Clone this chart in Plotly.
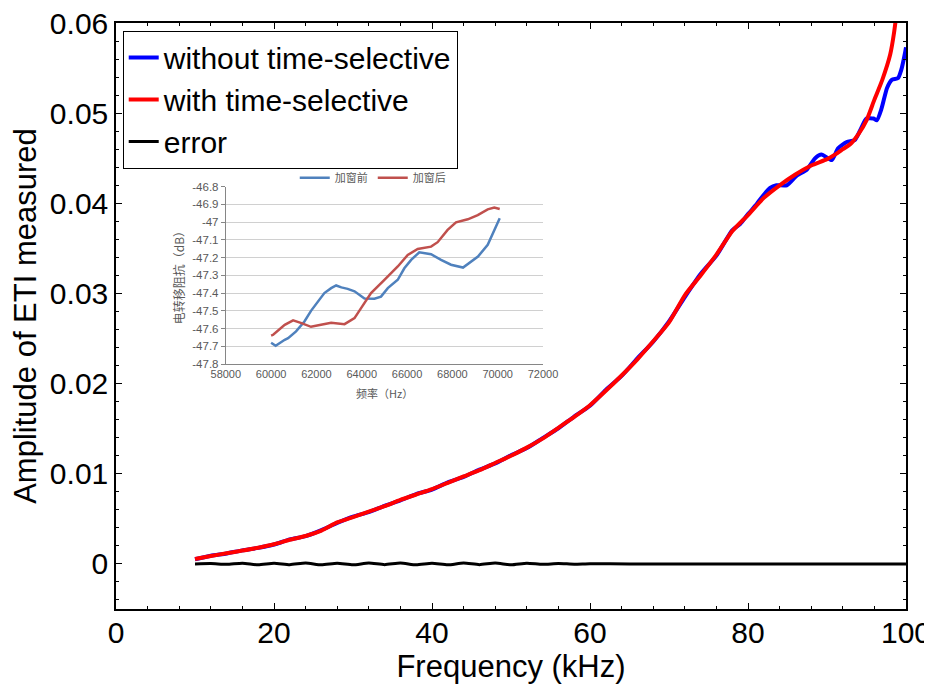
import plotly.graph_objects as go

# ---------------- main chart data (kHz, amplitude) ----------------
freq_without = [10, 12, 14, 16, 18, 20, 22, 24, 26, 28, 30, 32, 34, 36, 38, 40, 42, 44, 46, 48,
                50, 52, 54, 56, 58, 60, 62, 64, 66, 68, 70, 72, 74, 76, 78, 79, 80, 81, 81.5,
                82.8, 83.6, 84.9, 86.2, 87.4, 88.5, 89.3, 90.6, 91.4, 92.5, 93.5, 94.2, 95.0,
                95.9, 96.3, 96.9, 97.6, 98.2, 99.0, 99.4, 99.9, 100]
amp_without = [0.00052, 0.00090, 0.00116, 0.00150, 0.00178, 0.00215, 0.00272, 0.00308, 0.00375,
               0.00455, 0.00525, 0.00575, 0.00645, 0.00705, 0.00775, 0.00825, 0.00905, 0.00965,
               0.01045, 0.01115, 0.01205, 0.01285, 0.01395, 0.01505, 0.01635, 0.01755, 0.01930,
               0.02085, 0.02280, 0.02465, 0.02690, 0.02960, 0.03215, 0.03420, 0.03700, 0.03770,
               0.03880, 0.03980, 0.04040, 0.04170, 0.04200, 0.04200, 0.04310, 0.04370, 0.04500,
               0.04540, 0.04480, 0.04610, 0.04680, 0.04700, 0.04810, 0.04940, 0.04940, 0.04920,
               0.05050, 0.05280, 0.05370, 0.05390, 0.05480, 0.05680, 0.05730]

freq_with = [10, 12, 14, 16, 18, 20, 22, 24, 26, 28, 30, 32, 34, 36, 38, 40, 42, 44, 46, 48,
             50, 52, 54, 56, 58, 60, 62, 64, 66, 68, 70, 72, 74, 76, 78, 80, 82, 84, 86, 88,
             90, 91, 92, 93, 94, 95, 96, 97, 98, 98.5, 99, 99.5, 100]
amp_with = [0.00055, 0.00088, 0.00118, 0.00148, 0.00180, 0.00218, 0.00268, 0.00310, 0.00370,
            0.00460, 0.00520, 0.00580, 0.00640, 0.00710, 0.00770, 0.00830, 0.00900, 0.00970,
            0.01040, 0.01120, 0.01200, 0.01290, 0.01390, 0.01510, 0.01630, 0.01760, 0.01920,
            0.02090, 0.02270, 0.02470, 0.02680, 0.02980, 0.03200, 0.03430, 0.03690, 0.03870,
            0.04060, 0.04200, 0.04320, 0.04420, 0.04490, 0.04540, 0.04600, 0.04660, 0.04770,
            0.04920, 0.05150, 0.05370, 0.05650, 0.05900, 0.06250, 0.06600, 0.07000]

freq_error = [10, 12, 14, 16, 18, 20, 22, 24, 26, 28, 30, 32, 34, 36, 38, 40, 42, 44, 46, 48,
              50, 52, 54, 56, 58, 60, 65, 70, 80, 90, 100]
amp_error = [0.0, 0.00005, -0.00005, 0.00008, -0.0001, 0.00008, -0.00008, 0.0001, -0.0001,
             0.00008, -0.0001, 0.0001, -0.00008, 0.0001, -0.0001, 0.00008, -0.0001, 0.0001,
             -0.00008, 0.0001, -0.0001, 0.00008, -0.00005, 0.00005, -0.00003, 0.00003,
             0.0, 0.0, 0.0, 0.0, 0.0]

y_tickvals = [0, 0.01, 0.02, 0.03, 0.04, 0.05, 0.06]
y_ticktext = ["0", "0.01", "0.02", "0.03", "0.04", "0.05", "0.06"]
x_tickvals = [0, 20, 40, 60, 80, 100]
x_ticktext = ["0", "20", "40", "60", "80", "100"]

# ---------------- inset data (Hz, dB) ----------------
inset_f_before = [60000, 60090, 60200, 60600, 60750, 61100, 61470, 61760, 62060, 62350, 62650,
                  62870, 63100, 63380, 63680, 64120, 64560, 64850, 65150, 65590, 65880, 66180,
                  66540, 67060, 67500, 67940, 68470, 68750, 69130, 69560, 69850, 70090]
inset_db_before = [-47.680, -47.690, -47.697, -47.663, -47.654, -47.616, -47.560, -47.500,
                   -47.447, -47.400, -47.372, -47.357, -47.368, -47.376, -47.390, -47.430,
                   -47.432, -47.420, -47.372, -47.325, -47.260, -47.213, -47.170, -47.181,
                   -47.213, -47.240, -47.256, -47.230, -47.194, -47.128, -47.044, -46.978]
inset_f_after = [60000, 60090, 60600, 60970, 61340, 61760, 62200, 62650, 63240, 63680, 63970,
                 64410, 65000, 65590, 66030, 66470, 67060, 67350, 67790, 68160, 68680, 69120,
                 69560, 69850, 70090]
inset_db_after = [-47.640, -47.635, -47.579, -47.554, -47.569, -47.590, -47.578, -47.567,
                  -47.575, -47.541, -47.485, -47.400, -47.325, -47.250, -47.185, -47.151,
                  -47.138, -47.113, -47.044, -47.001, -46.984, -46.960, -46.928, -46.918,
                  -46.926]
inset_x_tickvals = [58000, 60000, 62000, 64000, 66000, 68000, 70000, 72000]
inset_x_ticktext = ["58000", "60000", "62000", "64000", "66000", "68000", "70000", "72000"]
inset_y_tickvals = [-46.8, -46.9, -47.0, -47.1, -47.2, -47.3, -47.4, -47.5, -47.6, -47.7, -47.8]
inset_y_ticktext = ["-46.8", "-46.9", "-47", "-47.1", "-47.2", "-47.3", "-47.4", "-47.5",
                    "-47.6", "-47.7", "-47.8"]

MAIN_FONT = "Liberation Sans, Arial, sans-serif"
CJK_FONT = "Noto Sans CJK SC, sans-serif"

fig = go.Figure()
fig.add_trace(go.Scatter(x=freq_without, y=amp_without, mode="lines", name="without time-selective",
                         line=dict(color="#0000ff", width=4, shape="spline", smoothing=0.6),
                         legend="legend"))
fig.add_trace(go.Scatter(x=freq_with, y=amp_with, mode="lines", name="with time-selective",
                         line=dict(color="#ff0000", width=4, shape="spline", smoothing=0.6),
                         legend="legend"))
fig.add_trace(go.Scatter(x=freq_error, y=amp_error, mode="lines", name="error",
                         line=dict(color="#000000", width=3, shape="spline", smoothing=0.6),
                         legend="legend"))

fig.add_trace(go.Scatter(x=inset_f_before, y=inset_db_before, mode="lines", name="加窗前",
                         line=dict(color="#4f81bd", width=2.5), xaxis="x2", yaxis="y2",
                         legend="legend2"))
fig.add_trace(go.Scatter(x=inset_f_after, y=inset_db_after, mode="lines", name="加窗后",
                         line=dict(color="#c0504d", width=2.5), xaxis="x2", yaxis="y2",
                         legend="legend2"))

fig.update_layout(
    template="none",
    width=932, height=686,
    # the page body adds an 8 px offset; margins compensate so the plot lands where the reference has it
    margin=dict(l=108, r=34, t=15, b=85, autoexpand=False),
    paper_bgcolor="white", plot_bgcolor="white",
    font=dict(family=MAIN_FONT, color="black"),
    xaxis=dict(
        range=[0, 100], tickvals=x_tickvals, ticktext=x_ticktext, automargin=False,
        ticks="inside", ticklen=6, tickcolor="black", tickwidth=1,
        showline=True, linecolor="black", linewidth=1.5, mirror="ticks",
        showgrid=False, zeroline=False, ticklabelstandoff=-4, ticklabeloverflow="allow",
        minor=dict(dtick=4, ticks="inside", ticklen=3, tickcolor="black", showgrid=False),
        tickfont=dict(size=30),
        title=dict(text="Frequency (kHz)", font=dict(size=31), standoff=2),
    ),
    yaxis=dict(
        range=[-0.005, 0.06], tickvals=y_tickvals, ticktext=y_ticktext, automargin=False,
        ticks="inside", ticklen=6, tickcolor="black", tickwidth=1,
        showline=True, linecolor="black", linewidth=1.5, mirror="ticks",
        showgrid=False, zeroline=False, ticklabeloverflow="allow",
        minor=dict(dtick=0.002, ticks="inside", ticklen=3, tickcolor="black", showgrid=False),
        tickfont=dict(size=30),
        title=dict(text="Amplitude of ETI measured", font=dict(size=31), standoff=4),
    ),
    xaxis2=dict(
        domain=[0.139, 0.5405], anchor="y2", automargin=False,
        range=[58000, 72000], tickvals=inset_x_tickvals, ticktext=inset_x_ticktext,
        ticks="", showline=True, linecolor="#868686", linewidth=1,
        showgrid=False, zeroline=False,
        tickfont=dict(size=11, color="#595959"),
    ),
    yaxis2=dict(
        domain=[0.418, 0.7207], anchor="x2", automargin=False,
        range=[-47.8, -46.8], tickvals=inset_y_tickvals, ticktext=inset_y_ticktext,
        ticks="outside", ticklen=4, tickcolor="#868686",
        showline=True, linecolor="#868686", linewidth=1,
        showgrid=True, gridcolor="#d0d0d0", gridwidth=1, zeroline=False,
        tickfont=dict(size=11.5, color="#595959"),
    ),
    legend=dict(
        x=0.0085, y=0.987, xanchor="left", yanchor="top",
        bgcolor="white", bordercolor="black", borderwidth=1,
        font=dict(size=30, family=MAIN_FONT), tracegroupgap=0, itemwidth=30,
    ),
    legend2=dict(
        orientation="h", x=0.325, y=0.736, xanchor="center", yanchor="middle",
        bgcolor="rgba(0,0,0,0)", font=dict(size=11, family=CJK_FONT, color="#595959"),
        itemwidth=30,
    ),
    annotations=[
        dict(text="频率（Hz）", xref="paper", yref="paper", x=0.3405, y=(609 - 393) / 586,
             showarrow=False, font=dict(size=11, family=CJK_FONT, color="#595959"),
             xanchor="center", yanchor="middle"),
        dict(text="电转移阻抗（dB）", xref="paper", yref="paper", x=(178 - 116) / 790,
             y=0.5695, showarrow=False, textangle=-90,
             font=dict(size=12, family=CJK_FONT, color="#595959"),
             xanchor="center", yanchor="middle"),
    ],
)

fig.write_html("out.html")
